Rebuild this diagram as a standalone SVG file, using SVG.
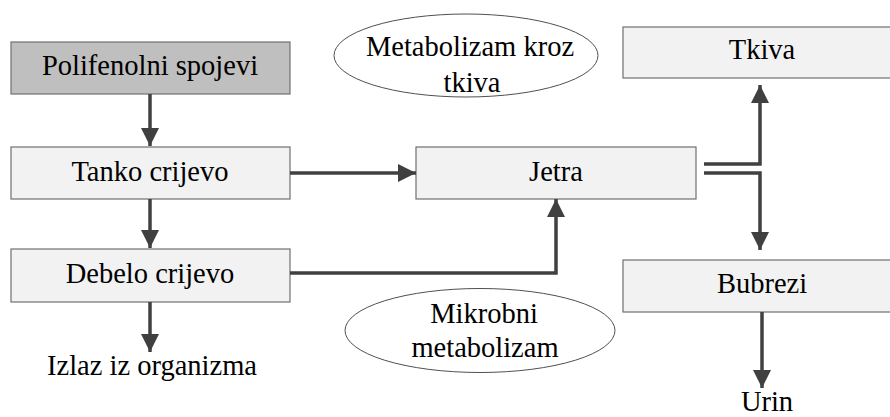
<svg xmlns="http://www.w3.org/2000/svg" width="890" height="417" viewBox="0 0 890 417">
<defs>
<marker id="ah" markerUnits="userSpaceOnUse" markerWidth="20" markerHeight="20" refX="18" refY="9" orient="auto">
<path d="M0,0 L18,9 L0,18 Z" fill="#404040"/>
</marker>
<style>
.box{fill:#f2f2f2;stroke:#707070;stroke-width:1.2}
.dark{fill:#bfbfbf}
.ell{fill:#ffffff;stroke:#505050;stroke-width:1}
text{font-family:'Liberation Serif','DejaVu Serif',serif;font-size:28.5px;fill:#000;text-anchor:middle}
.c{fill:none;stroke:#404040;stroke-width:3.5}
</style>
</defs>
<rect width="890" height="417" fill="#ffffff"/>
<g id="polifenolni"><rect class="box dark" x="11" y="42" width="279" height="52"/><text x="150" y="75">Polifenolni spojevi</text></g>
<g id="tanko"><rect class="box" x="11" y="147" width="279" height="52"/><text x="150" y="181">Tanko crijevo</text></g>
<g id="debelo"><rect class="box" x="11" y="249" width="279" height="53"/><text x="150" y="283">Debelo crijevo</text></g>
<g id="izlaz"><text x="152" y="375">Izlaz iz organizma</text></g>
<g id="jetra"><rect class="box" x="416" y="147" width="280" height="52"/><text x="556" y="181">Jetra</text></g>
<g id="tkiva"><rect class="box" x="623" y="27" width="280" height="51"/><text x="762" y="59">Tkiva</text></g>
<g id="bubrezi"><rect class="box" x="623" y="260" width="280" height="52"/><text x="762" y="293">Bubrezi</text></g>
<g id="urin"><text x="767" y="411">Urin</text></g>
<g id="metabolizam"><ellipse class="ell" cx="466" cy="55.5" rx="132" ry="41.5"/><text x="470" y="56">Metabolizam kroz</text><text x="472" y="92">tkiva</text></g>
<g id="mikrobni"><ellipse class="ell" cx="480" cy="330.5" rx="135" ry="42"/><text x="484" y="323">Mikrobni</text><text x="485" y="357">metabolizam</text></g>
<g id="connectors">
<path class="c" d="M150,94 V146" marker-end="url(#ah)"/>
<path class="c" d="M150,199 V248" marker-end="url(#ah)"/>
<path class="c" d="M150,302 V352" marker-end="url(#ah)"/>
<path class="c" d="M290,173 H416" marker-end="url(#ah)"/>
<path class="c" d="M290,273 H556 V199" marker-end="url(#ah)"/>
<path class="c" d="M704,164 H760 V85" marker-end="url(#ah)"/>
<path class="c" d="M704,173 H760 V250" marker-end="url(#ah)"/>
<path class="c" d="M762,312 V388" marker-end="url(#ah)"/>
</g>
</svg>
